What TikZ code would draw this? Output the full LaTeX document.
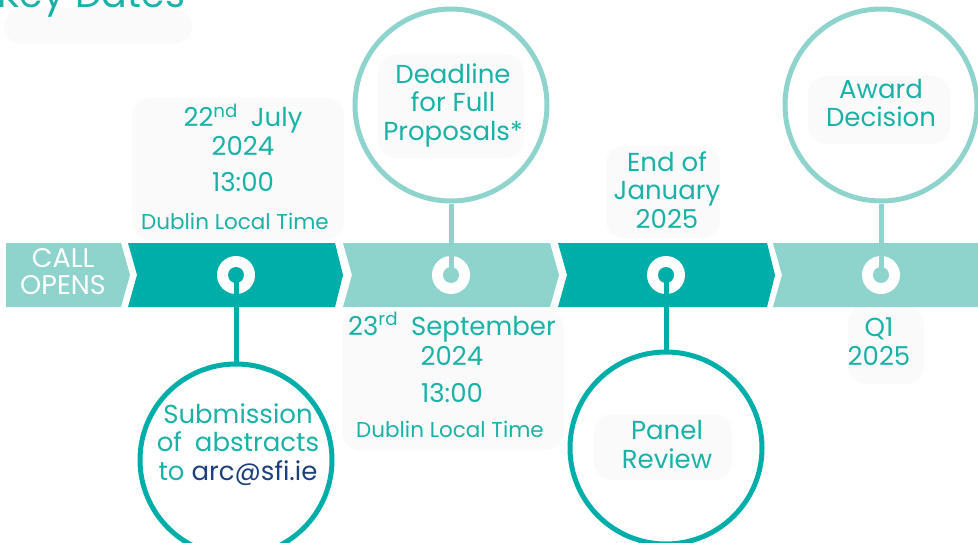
\documentclass[tikz,border=0pt]{standalone}
\usepackage{fontspec}
\setmainfont{Poppins}

\definecolor{darkteal}{HTML}{00AEA9}
\definecolor{paleteal}{HTML}{8ED4CD}
\definecolor{tealtext}{HTML}{1AB2A7}
\definecolor{mailblue}{HTML}{1E3F7E}
\definecolor{smudge}{HTML}{FAFAFA}

\begin{document}
\begin{tikzpicture}[x=1pt, y=-1pt,
    every node/.style={font=\fontsize{26}{28.5}\selectfont, text=tealtext, align=center, inner sep=0pt},
    bigring/.style={circle, minimum size=192pt, line width=5pt},
    stem/.style={line width=5pt},
    smallprint/.style={font=\fontsize{21.5}{24}\selectfont},
    patch/.style={fill=smudge, rounded corners=18pt}]
    \useasboundingbox (0,0) rectangle (978,543);
    \clip (0,0) rectangle (978,543);

    % faint patches behind the texts
    \fill[patch] (4,8) rectangle (192,44);
    \fill[patch] (132,98) rectangle (344,240);
    \fill[patch] (342,310) rectangle (564,450);
    \fill[patch] (606,146) rectangle (720,238);
    \fill[patch] (378,54) rectangle (524,158);
    \fill[patch] (808,76) rectangle (950,144);
    \fill[patch] (594,414) rectangle (732,480);
    \fill[patch] (848,306) rectangle (924,384);

    % the band of chevrons
    \fill[paleteal] (6,243) -- (121,243) -- (130,275) -- (121,307) -- (6,307) -- cycle;
    \fill[darkteal] (128,243) -- (335,243) -- (343,275) -- (335,307) -- (128,307) -- (137,275) -- cycle;
    \fill[paleteal] (343,243) -- (550,243) -- (559,275) -- (550,307) -- (343,307) -- (352,275) -- cycle;
    \fill[darkteal] (558,243) -- (767,243) -- (775,275) -- (767,307) -- (558,307) -- (567,275) -- cycle;
    \fill[paleteal] (773,243) -- (978,243) -- (978,307) -- (773,307) -- (782,275) -- cycle;

    % rings on the band
    \coordinate (r2) at (236,275);
    \coordinate (r3) at (451,275);
    \coordinate (r4) at (666,275);
    \coordinate (r5) at (881,275);
    \fill[white] (r2) circle (19);
    \fill[white] (r3) circle (19);
    \fill[white] (r4) circle (19);
    \fill[white] (r5) circle (19);
    \fill[darkteal] (r2) circle (8);
    \fill[paleteal] (r3) circle (8);
    \fill[darkteal] (r4) circle (8);
    \fill[paleteal] (r5) circle (8);

    % big circles
    \node[bigring, draw=darkteal] (submit) at (236,460) {};
    \node[bigring, draw=paleteal] (deadline) at (451,105) {};
    \node[bigring, draw=darkteal] (panel) at (666,448) {};
    \node[bigring, draw=paleteal] (award) at (881,105) {};

    \draw[stem, darkteal] (r2) -- (submit);
    \draw[stem, paleteal] (r3) -- (deadline);
    \draw[stem, darkteal] (r4) -- (panel);
    \draw[stem, paleteal] (r5) -- (award);

    % texts (base = last line)
    \node[anchor=base west, font=\fontsize{38}{40}\selectfont] (title) at (-3,8) {Key Dates};
    \node[anchor=base, text=white, font=\fontsize{27}{26.5}\selectfont] (callopens) at (63,294) {CALL\\OPENS};

    \node[anchor=base] (submittext) at (238,480) {Submission\\of\enspace abstracts\\to \textcolor{mailblue}{arc@sfi.ie}};
    \node[anchor=base] (deadlinetext) at (453,140) {Deadline\\for Full\\Proposals*};
    \node[anchor=base] (paneltext) at (667,468) {Panel\\Review};
    \node[anchor=base] (awardtext) at (881,127) {Award\\Decision};

    \node[anchor=base] (julydate) at (243,191) {22\textsuperscript{nd}\enspace July\\2024\\[7.5pt]13:00};
    \node[anchor=base, smallprint] (julytime) at (235,229) {Dublin Local Time};
    \node[anchor=base] (septdate) at (452,402) {23\textsuperscript{rd}\enspace September\\[1.5pt]2024\\[8.5pt]13:00};
    \node[anchor=base, smallprint] (septtime) at (450,437) {Dublin Local Time};
    \node[anchor=base] (jandate) at (667,228) {End of\\January\\2025};
    \node[anchor=base] (q1date) at (879,365) {Q1\\2025};
\end{tikzpicture}
\end{document}
